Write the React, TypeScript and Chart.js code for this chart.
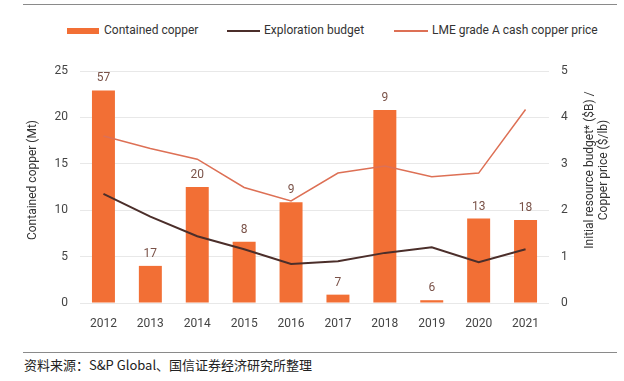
import React, { useEffect, useRef } from 'react';
import { Chart, registerables } from 'chart.js';

Chart.register(...registerables);

const years = ['2012', '2013', '2014', '2015', '2016', '2017', '2018', '2019', '2020', '2021'];
const containedCopper = [22.9, 4.0, 12.5, 6.6, 10.85, 0.9, 20.8, 0.3, 9.1, 8.95];
const barLabels = ['57', '17', '20', '8', '9', '7', '9', '6', '13', '18'];
const explorationBudget = [2.35, 1.86, 1.44, 1.16, 0.84, 0.9, 1.08, 1.2, 0.88, 1.16];
const lmePrice = [3.6, 3.33, 3.1, 2.49, 2.2, 2.8, 2.95, 2.72, 2.8, 4.17];
const seriesNames = ['Contained copper', 'Exploration budget', 'LME grade A cash copper price'];
const leftTitle = 'Contained copper (Mt)';
const rightTitle = ['Initial resource budget* ($B) /', 'Copper price ($/lb)'];
const sourceText = '资料来源：S&P Global、国信证券经济研究所整理';

const FONT = 'Roboto, "Noto Sans", sans-serif';
const ORANGE = '#F26F35';
const DARK = '#4b2e2a';
const LIGHT = '#dd7055';

export default function App() {
  const ref = useRef<HTMLCanvasElement | null>(null);

  useEffect(() => {
    document.body.style.margin = '0';
    document.body.style.background = '#fff';
    const canvas = ref.current;
    if (!canvas) return;

    const extras = {
      id: 'extras',
      afterDatasetsDraw(chart: any) {
        const ctx = chart.ctx;
        const meta = chart.getDatasetMeta(0);
        ctx.save();
        ctx.font = `12px ${FONT}`;
        ctx.fillStyle = '#7a5248';
        ctx.textAlign = 'center';
        ctx.textBaseline = 'bottom';
        meta.data.forEach((el: any, i: number) => {
          ctx.fillText(barLabels[i], el.x, el.y - 6);
        });
        ctx.restore();
      },
      afterDraw(chart: any) {
        const ctx = chart.ctx;
        ctx.save();
        ctx.font = `12px ${FONT}`;
        ctx.fillStyle = '#333';
        ctx.textAlign = 'center';
        ctx.textBaseline = 'middle';
        ctx.translate(33, 180);
        ctx.rotate(-Math.PI / 2);
        ctx.fillText(leftTitle, 0, 0);
        ctx.restore();

        ctx.save();
        ctx.font = `12px ${FONT}`;
        ctx.fillStyle = '#333';
        ctx.textAlign = 'center';
        ctx.textBaseline = 'middle';
        ctx.translate(590, 170);
        ctx.rotate(-Math.PI / 2);
        ctx.fillText(rightTitle[0], 0, 0);
        ctx.fillText(rightTitle[1], 0, 14);
        ctx.restore();
      },
    };

    const chart = new Chart(canvas, {
      type: 'bar',
      data: {
        labels: years,
        datasets: [
          {
            type: 'bar',
            label: seriesNames[0],
            data: containedCopper,
            backgroundColor: ORANGE,
            yAxisID: 'y',
            order: 2,
            categoryPercentage: 1,
            barPercentage: 0.49,
          },
          {
            type: 'line',
            label: seriesNames[1],
            data: explorationBudget,
            borderColor: DARK,
            borderWidth: 2,
            pointRadius: 0,
            tension: 0,
            yAxisID: 'y1',
            order: 0,
          },
          {
            type: 'line',
            label: seriesNames[2],
            data: lmePrice,
            borderColor: LIGHT,
            borderWidth: 1.5,
            pointRadius: 0,
            tension: 0,
            yAxisID: 'y1',
            order: 1,
          },
        ] as any,
      },
      options: {
        animation: false,
        responsive: false,
        maintainAspectRatio: false,
        layout: { padding: { top: 71, left: 0, right: 0, bottom: 0 } },
        plugins: { legend: { display: false }, tooltip: { enabled: false } },
        scales: {
          x: {
            offset: true,
            grid: { display: false },
            border: { display: false },
            ticks: { color: '#444', font: { family: FONT, size: 12 }, padding: 6 },
            afterFit(scale: any) { scale.height = 37; },
          },
          y: {
            position: 'left',
            min: 0,
            max: 25,
            ticks: { stepSize: 5, color: '#444', font: { family: FONT, size: 12 }, padding: 12 },
            grid: { color: '#e8e8e8', drawTicks: false },
            border: { display: false },
            afterFit(scale: any) { scale.width = 80; },
          },
          y1: {
            position: 'right',
            min: 0,
            max: 5,
            ticks: { stepSize: 1, color: '#444', font: { family: FONT, size: 12 }, padding: 12 },
            grid: { display: false, drawTicks: false },
            border: { display: false },
            afterFit(scale: any) { scale.width = 75; },
          },
        },
      },
      plugins: [extras],
    } as any);

    return () => chart.destroy();
  }, []);

  const textStyle: React.CSSProperties = {
    position: 'absolute',
    top: 22,
    fontFamily: FONT,
    fontSize: 12,
    color: '#333',
    lineHeight: '16px',
    whiteSpace: 'nowrap',
  };

  return (
    <div style={{ position: 'relative', width: 624, height: 381, background: '#fff', overflow: 'hidden' }}>
      <div style={{ position: 'absolute', left: 23, top: 4, width: 594, height: 1, background: '#8a8a8a' }} />
      <div style={{ position: 'absolute', left: 67, top: 28, width: 32, height: 6, background: ORANGE }} />
      <div style={{ ...textStyle, left: 104 }}>{seriesNames[0]}</div>
      <div style={{ position: 'absolute', left: 227, top: 30, width: 33, height: 2, background: DARK }} />
      <div style={{ ...textStyle, left: 264 }}>{seriesNames[1]}</div>
      <div style={{ position: 'absolute', left: 394, top: 30, width: 34, height: 1.5, background: LIGHT }} />
      <div style={{ ...textStyle, left: 432 }}>{seriesNames[2]}</div>
      <canvas ref={ref} width={624} height={340} style={{ position: 'absolute', left: 0, top: 0, width: 624, height: 340 }} />
      <div style={{ position: 'absolute', left: 23, top: 352, width: 594, height: 1, background: '#8a8a8a' }} />
      <div
        style={{
          position: 'absolute',
          left: 24,
          top: 357,
          fontFamily: '"Noto Sans CJK SC", sans-serif',
          fontSize: 13,
          lineHeight: '16px',
          color: '#222',
          whiteSpace: 'nowrap',
        }}
      >
        {sourceText}
      </div>
    </div>
  );
}
